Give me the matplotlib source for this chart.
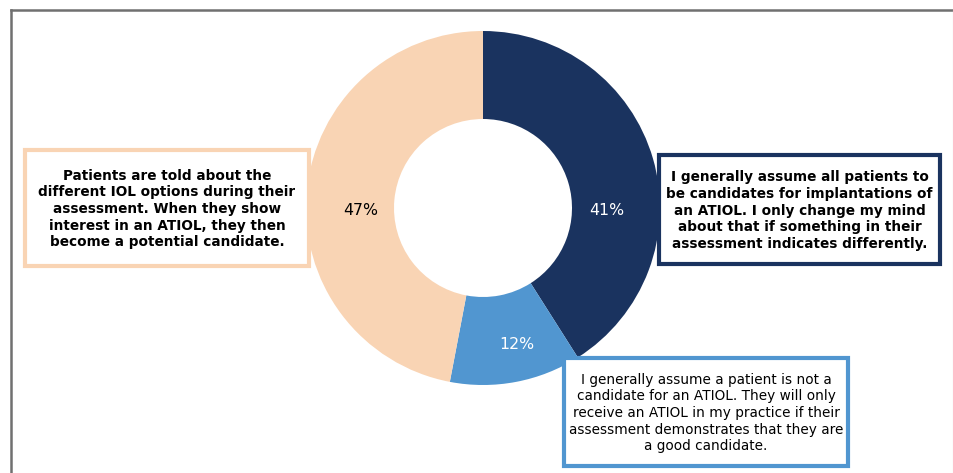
import matplotlib.pyplot as plt
from matplotlib.patches import Rectangle
from matplotlib.lines import Line2D
import numpy as np

# survey answers, in the order they are drawn clockwise from 12 o'clock
answers = [
    "I generally assume all patients to\nbe candidates for implantations of\nan ATIOL. I only change my mind\nabout that if something in their\nassessment indicates differently.",
    "I generally assume a patient is not a\ncandidate for an ATIOL. They will only\nreceive an ATIOL in my practice if their\nassessment demonstrates that they are\na good candidate.",
    "Patients are told about the\ndifferent IOL options during their\nassessment. When they show\ninterest in an ATIOL, they then\nbecome a potential candidate.",
]
shares = [41, 12, 47]
colors = ["#1a335f", "#5196d0", "#f9d4b4"]
pct_colors = ["white", "white", "black"]
bold_text = [True, False, True]

W, H = 954, 473
fig = plt.figure(figsize=(W / 100, H / 100), dpi=100)
ax = fig.add_axes([0, 0, 1, 1])

cx, cy, R = 483, 265, 177
wedges, _ = ax.pie(shares, colors=colors, startangle=90, counterclock=False,
                   radius=R, center=(cx, cy), frame=True,
                   wedgeprops=dict(width=88, linewidth=0))
ax.set_xlim(0, W)
ax.set_ylim(0, H)
ax.set_aspect("equal")
ax.axis("off")

# percentage labels (angle in degrees, distance from centre)
pct_pos = [(-1, 124), (-76, 141), (181, 122)]
for v, c, (ang, r) in zip(shares, pct_colors, pct_pos):
    a = np.deg2rad(ang)
    ax.text(cx + r * np.cos(a), cy + r * np.sin(a), f"{v}%", color=c,
            fontsize=11.3, ha="center", va="center")

# callout boxes: x0, y0 (top, from the top edge), width, height
boxes = [(659, 155, 281, 109), (564, 358, 284, 108), (25, 150, 284, 116)]
for txt, c, b, (x0, y0, w, h) in zip(answers, colors, bold_text, boxes):
    ax.add_patch(Rectangle((x0, H - y0 - h), w, h, facecolor="white",
                           edgecolor=c, linewidth=3, zorder=3))
    ax.text(x0 + w / 2, H - y0 - h / 2 - 1, txt, ha="center", va="center",
            fontsize=9.8, fontweight="bold" if b else "normal",
            linespacing=1.24, zorder=4)

# frame lines
fig.add_artist(Line2D([11.5 / W, 11.5 / W], [0, 1 - 10 / H], color="#707070", lw=1.8))
fig.add_artist(Line2D([11.5 / W, 1], [1 - 10 / H, 1 - 10 / H], color="#707070", lw=1.8))
fig.add_artist(Line2D([953 / W, 953 / W], [0, 1 - 10 / H], color="#d0d0d0", lw=0.8))

fig.savefig("out.png", dpi=100)
